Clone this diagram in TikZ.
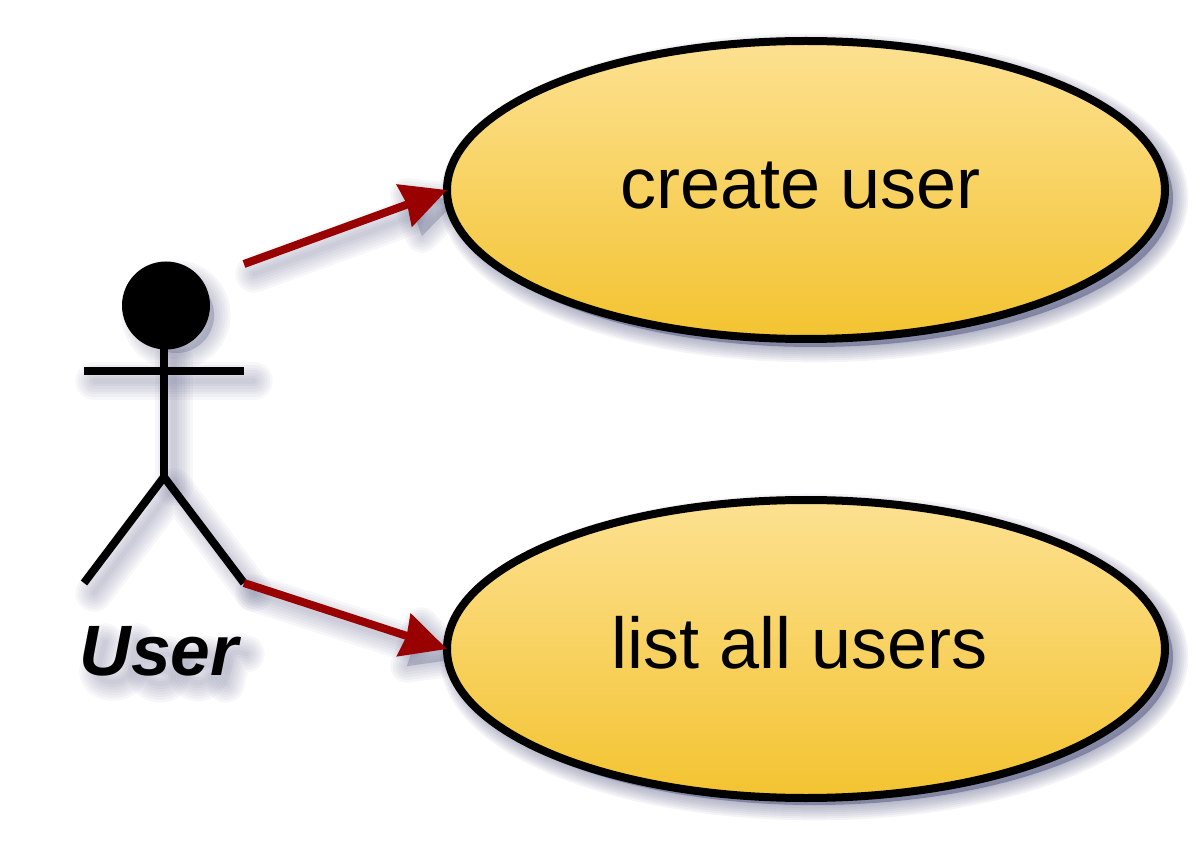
\documentclass[tikz,border=0pt]{standalone}
\usepackage{fontspec}
\setmainfont{Liberation Sans}
\usetikzlibrary{arrows.meta,shapes.geometric}
\definecolor{shadowc}{RGB}{100,104,140}
\definecolor{arrowc}{RGB}{153,0,0}
\definecolor{topc}{RGB}{253,225,145}
\definecolor{botc}{RGB}{243,195,48}
\tikzset{
  x=0.75pt,y=-0.75pt,
  usecase/.style={ellipse,draw=black,line width=6pt,inner sep=0pt,outer sep=0pt,
    minimum width=538.5pt,minimum height=223.5pt,top color=topc,bottom color=botc,shading angle=0},
  uselabel/.style={font=\fontsize{54pt}{60pt}\selectfont,anchor=base,inner sep=0pt,text=black},
  actorline/.style={draw=black,line width=6pt,line cap=butt},
  relation/.style={draw=arrowc,line width=6pt,line cap=butt,
    -{Stealth[length=33.75pt,width=32.8pt,inset=2pt]}},
}
% blurred shadow of a stroked path
\newcommand{\softline}[1]{%
  \foreach \w in {4,8,12,16,20,24,28}{%
    \draw[draw=shadowc,opacity=0.055,line width=\w pt,line cap=round,line join=round,shift={(10,10)}] #1;}}
% blurred shadow of a filled path without a hard core
\newcommand{\softblob}[1]{%
  \foreach \w in {1,5,9,13,17,21,25}{%
    \path[draw=shadowc,fill=shadowc,opacity=0.06,line width=\w pt,line join=round,shift={(10,10)}] #1;}}
% blurred shadow with a hard core
\newcommand{\softfill}[1]{%
  \foreach \w in {2,5,8,11,14,17,20,23}{%
    \path[draw=shadowc,opacity=0.075,line width=\w pt,line join=round,shift={(8,8)}] #1;}%
  \path[fill=shadowc,opacity=0.65,shift={(8,8)}] #1;}
\begin{document}
\begin{tikzpicture}
\useasboundingbox (0,0) rectangle (1200,852);
% shadows
\softfill{(806,190) ellipse [x radius=359,y radius=149]}
\softfill{(806,649) ellipse [x radius=359,y radius=148]}
\softline{(244,264) -- (405,205)}
\softline{(244,583) -- (405,635)}
\softblob{(447,190) -- (412,226) -- (397,185) -- cycle}
\softblob{(447,649) -- (397,656) -- (411,614) -- cycle}
\softblob{(166,305) circle [radius=38]}
\softline{(84,371) -- (244,371)}
\softline{(164,349) -- (164,477)}
\softline{(84,583) -- (164,477) -- (244,583)}
% soft shadow of the actor's name, drawn as strokes
\softline{(95,632) -- (88,660) .. controls (85,674) and (116,678) .. (120,660) -- (127,632)}
\softline{(168,650) .. controls (160,640) and (140,645) .. (145,654) .. controls (150,662) and (165,660) .. (160,670) .. controls (155,677) and (138,674) .. (136,665)}
\softline{(178,655) -- (204,655) .. controls (206,640) and (182,640) .. (177,660) .. controls (175,675) and (195,677) .. (200,665)}
\softline{(216,674) -- (223,643) .. controls (226,642) and (232,642) .. (236,644)}
% use cases
\node[usecase] (createcase) at (806,190) {};
\node[usecase] (listcase) at (806,649) {};
\node[uselabel] (createtext) at (800.5,208.5) {create user};
\node[uselabel] (listtext) at (800,668.5) {list all users};
% actor
\node[circle,fill=black,draw=none,minimum size=66pt,inner sep=0pt,outer sep=0pt] (head) at (166,305.5) {};
\coordinate (neck) at (164,349);
\coordinate (hip) at (164,477);
\coordinate (lefthand) at (84,371);
\coordinate (righthand) at (244,371);
\coordinate (leftfoot) at (84,583);
\coordinate (rightfoot) at (244,583);
\coordinate (topstart) at (244,264);
\draw[actorline] (neck) -- (hip);
\draw[actorline] (lefthand) -- (righthand);
\draw[actorline,line join=miter] (leftfoot) -- (hip) -- (rightfoot);
\node[font=\fontsize{53.5pt}{60pt}\selectfont\bfseries\itshape,anchor=base,inner sep=0pt,text=black] (actorname) at (159,675) {User};
% relations
\draw[relation] (topstart) -- (createcase.west);
\draw[relation] (rightfoot) -- (listcase.west);
\end{tikzpicture}
\end{document}
